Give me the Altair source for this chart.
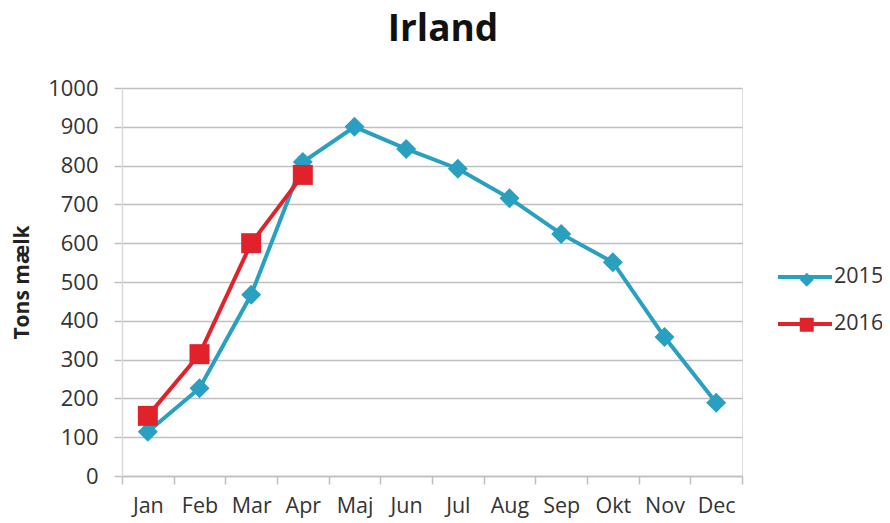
import altair as alt
import pandas as pd

months = ["Jan", "Feb", "Mar", "Apr", "Maj", "Jun", "Jul", "Aug", "Sep", "Okt", "Nov", "Dec"]
values_2015 = [114, 226, 467, 809, 900, 843, 792, 716, 624, 551, 358, 189]
values_2016 = [155, 314, 600, 776]
years = ["2015", "2016"]
colors = ["#2aa0c1", "#e2222b"]
y_ticks = list(range(0, 1001, 100))

rows = []
for m, v in zip(months, values_2015):
    rows.append({"month": m, "year": "2015", "value": v})
for m, v in zip(months, values_2016):
    rows.append({"month": m, "year": "2016", "value": v})
df = pd.DataFrame(rows)

FONT = "Open Sans"
GRID = "#bfbfbf"
TXT = "#333333"

x_enc = alt.X(
    "month:N",
    sort=months,
    bandPosition=0.5,
    scale=alt.Scale(type="band", domain=months, paddingInner=0, paddingOuter=0),
    axis=alt.Axis(
        title=None,
        tickBand="extent",
        grid=False,
        labelAngle=0,
        domainColor=GRID,
        domainWidth=1.5,
        tickColor=GRID,
        tickWidth=1.5,
        tickSize=8,
        labelFont=FONT,
        labelFontSize=21.5,
        labelColor=TXT,
        labelPadding=11,
    ),
)
y_enc = alt.Y(
    "value:Q",
    scale=alt.Scale(domain=[0, 1000], nice=False),
    axis=alt.Axis(
        title="Tons mælk",
        titleFont=FONT,
        titleFontSize=21,
        titleFontWeight="bold",
        titleColor="#222222",
        titlePadding=15,
        values=y_ticks,
        format="d",
        grid=True,
        gridColor=GRID,
        gridWidth=1.5,
        domainColor="#d9d9d9",
        domainWidth=1.5,
        tickColor=GRID,
        tickWidth=1.5,
        tickSize=8,
        labelFont=FONT,
        labelFontSize=22,
        labelColor=TXT,
        labelPadding=16,
    ),
)

line_legend = alt.Legend(
    title=None,
    orient="none",
    legendX=654,
    legendY=160,
    labelFont=FONT,
    labelFontSize=21.5,
    labelColor=TXT,
    labelOffset=0,
    symbolType="stroke",
    symbolStrokeWidth=4,
    symbolSize=2916,
    rowPadding=7,
)
point_legend = alt.Legend(
    title=None,
    orient="none",
    legendX=674,
    legendY=181,
    labelFont=FONT,
    labelFontSize=21.5,
    labelExpr="''",
    symbolSize=196,
    symbolOpacity=1,
    symbolStrokeWidth=0,
    rowPadding=22,
)

base = alt.Chart(df)

lines = base.mark_line(strokeWidth=4).encode(
    x=x_enc,
    y=y_enc,
    stroke=alt.Stroke("year:N", scale=alt.Scale(range=colors), legend=line_legend),
)

points = base.mark_point(filled=True, opacity=1, size=400, strokeWidth=0).encode(
    x=x_enc,
    y=y_enc,
    fill=alt.Fill("year:N", scale=alt.Scale(domain=years, range=colors), legend=point_legend),
    shape=alt.Shape("year:N", scale=alt.Scale(domain=years, range=["diamond", "square"]), legend=point_legend),
)

chart = (
    alt.layer(lines, points)
    .properties(
        width=620,
        height=388,
        autosize=alt.AutoSizeParams(type="none"),
        padding={"left": 114, "top": 80, "right": 140, "bottom": 47},
        title=alt.TitleParams(
            "Irland",
            font=FONT,
            fontSize=37,
            fontWeight="bold",
            color="#111111",
            anchor="middle",
            dx=11,
            offset=28,
        ),
    )
    .configure_view(stroke=None)
    .configure(background="white")
)

chart.save("out.html", embed_options={"renderer": "svg", "actions": False})
